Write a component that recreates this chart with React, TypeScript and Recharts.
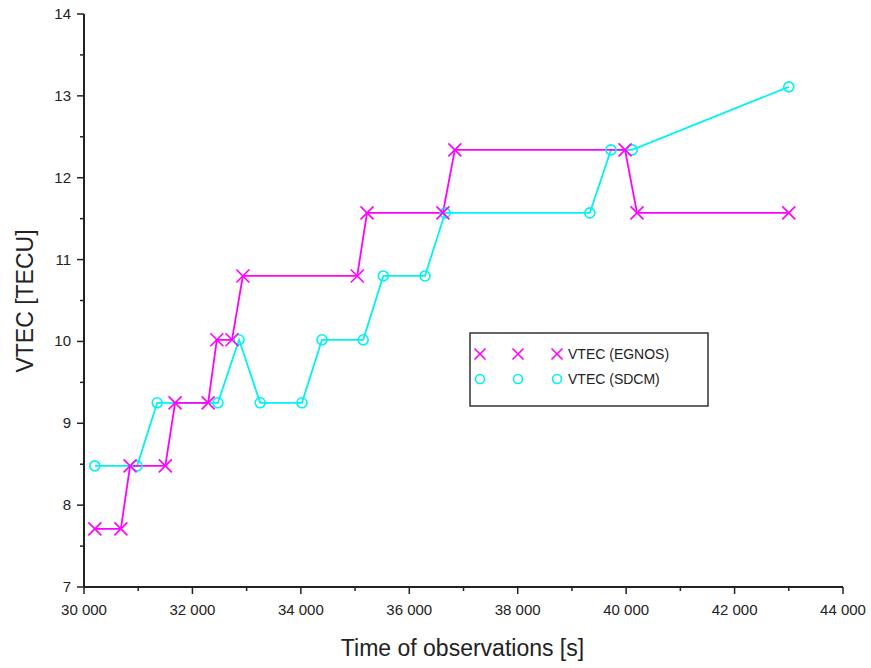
import { LineChart, Line, XAxis, YAxis, Legend } from 'recharts';

// EGNOS series (magenta crosses)
const egnosTime = [30200, 30680, 30850, 31500, 31680, 32290, 32450, 32730, 32930, 35040, 35220, 36620, 36840, 39980, 40200, 43000];
const egnosVtec = [7.71, 7.71, 8.48, 8.48, 9.25, 9.25, 10.02, 10.02, 10.8, 10.8, 11.57, 11.57, 12.34, 12.34, 11.57, 11.57];

// SDCM series (cyan circles)
const sdcmTime = [30200, 30980, 31350, 32470, 32860, 33250, 34020, 34390, 35150, 35520, 36290, 36660, 39330, 39720, 40110, 43000];
const sdcmVtec = [8.48, 8.48, 9.25, 9.25, 10.02, 9.25, 9.25, 10.02, 10.02, 10.8, 10.8, 11.57, 11.57, 12.34, 12.34, 13.11];

const xTicks = [30000, 31000, 32000, 33000, 34000, 35000, 36000, 37000, 38000, 39000, 40000, 41000, 42000, 43000, 44000];
const yTicks = [7, 7.5, 8, 8.5, 9, 9.5, 10, 10.5, 11, 11.5, 12, 12.5, 13, 13.5, 14];

const MAGENTA = '#ff00ff';
const CYAN = '#00f2f2';
const AXIS = '#222';
const FONT = '"Liberation Sans", Arial, sans-serif';

const egnosData = egnosTime.map((t, i) => ({ t, v: egnosVtec[i] }));
const sdcmData = sdcmTime.map((t, i) => ({ t, v: sdcmVtec[i] }));

const fmtThousands = (v: number) => {
  const s = String(Math.round(v));
  return s.length > 3 ? `${s.slice(0, s.length - 3)} ${s.slice(-3)}` : s;
};

function Cross({ cx, cy, color, size = 6.5 }: any) {
  if (cx == null || cy == null) return null;
  return (
    <g stroke={color} strokeWidth={1.6}>
      <line x1={cx - size} y1={cy - size} x2={cx + size} y2={cy + size} />
      <line x1={cx - size} y1={cy + size} x2={cx + size} y2={cy - size} />
    </g>
  );
}

function Ring({ cx, cy, color, r = 5 }: any) {
  if (cx == null || cy == null) return null;
  return <circle cx={cx} cy={cy} r={r} fill="none" stroke={color} strokeWidth={1.6} />;
}

function XTick({ x, y, payload }: any) {
  const major = payload.value % 2000 === 0;
  return (
    <g>
      <line x1={x} y1={y} x2={x} y2={y + (major ? 7 : 4)} stroke={AXIS} strokeWidth={1.5} />
      {major && (
        <text x={x} y={y + 28} textAnchor="middle" fontSize={15} fontFamily={FONT} fill="#222">
          {fmtThousands(payload.value)}
        </text>
      )}
    </g>
  );
}

function YTick({ x, y, payload }: any) {
  const major = Number.isInteger(payload.value);
  return (
    <g>
      <line x1={x} y1={y} x2={x - (major ? 7 : 4)} y2={y} stroke={AXIS} strokeWidth={1.5} />
      {major && (
        <text x={x - 13} y={y + 5} textAnchor="end" fontSize={15} fontFamily={FONT} fill="#222">
          {payload.value}
        </text>
      )}
    </g>
  );
}

function LegendBox() {
  const row = (y: number, marker: 'x' | 'o', label: string) => (
    <g>
      {[480, 518, 557].map(mx =>
        marker === 'x'
          ? <Cross key={mx} cx={mx} cy={y} color={MAGENTA} size={5.5} />
          : <Ring key={mx} cx={mx} cy={y} color={CYAN} r={4.5} />
      )}
      <text x={568} y={y + 5} fontSize={14} fontFamily={FONT} fill="#222">{label}</text>
    </g>
  );
  return (
    <svg width={871} height={668} style={{ position: 'absolute', left: 0, top: 0, pointerEvents: 'none' }}>
      <rect x={470} y={333} width={238} height={73} fill="#fff" stroke="#333" strokeWidth={1.5} />
      {row(354, 'x', 'VTEC (EGNOS)')}
      {row(379, 'o', 'VTEC (SDCM)')}
    </svg>
  );
}

export default function App() {
  return (
    <div style={{ position: 'absolute', left: 0, top: 0, width: 871, height: 668, background: '#fff' }}>
      <LineChart width={871} height={668} margin={{ top: 14, right: 28, bottom: 41, left: 24 }}>
        <XAxis
          xAxisId="b"
          dataKey="t"
          type="number"
          domain={[30000, 44000]}
          ticks={xTicks}
          interval={0}
          height={40}
          axisLine={{ stroke: AXIS, strokeWidth: 2 }}
          tickLine={false}
          tickSize={0}
          tickMargin={0}
          tick={<XTick />}
          allowDataOverflow
        />
        <XAxis xAxisId="t" orientation="top" type="number" domain={[30000, 44000]} height={0} tick={false} tickLine={false} axisLine={{ stroke: AXIS, strokeWidth: 2 }} />
        <YAxis
          yAxisId="l"
          type="number"
          domain={[7, 14]}
          ticks={yTicks}
          interval={0}
          width={60}
          axisLine={{ stroke: AXIS, strokeWidth: 2 }}
          tickLine={false}
          tickSize={0}
          tickMargin={0}
          tick={<YTick />}
          allowDataOverflow
        />
        <YAxis yAxisId="r" orientation="right" type="number" domain={[7, 14]} width={0} tick={false} tickLine={false} axisLine={{ stroke: AXIS, strokeWidth: 2 }} />
        <Line
          xAxisId="b"
          yAxisId="l"
          data={sdcmData}
          dataKey="v"
          type="linear"
          stroke={CYAN}
          strokeWidth={1.8}
          dot={(p: any) => <Ring key={`s-${p.index}`} cx={p.cx} cy={p.cy} color={CYAN} />}
          activeDot={false}
          isAnimationActive={false}
        />
        <Line
          xAxisId="b"
          yAxisId="l"
          data={egnosData}
          dataKey="v"
          type="linear"
          stroke={MAGENTA}
          strokeWidth={1.8}
          dot={(p: any) => <Cross key={`e-${p.index}`} cx={p.cx} cy={p.cy} color={MAGENTA} />}
          activeDot={false}
          isAnimationActive={false}
        />
        <Legend content={() => null} />
      </LineChart>
      <LegendBox />
      <div style={{ position: 'absolute', left: 0, top: 635, width: 871, paddingLeft: 54, textAlign: 'center', fontFamily: FONT, fontSize: 23, color: '#222', boxSizing: 'border-box' }}>
        Time of observations [s]
      </div>
      <div style={{ position: 'absolute', left: 25, top: 301, transform: 'translate(-50%, -50%) rotate(-90deg)', whiteSpace: 'nowrap', fontFamily: FONT, fontSize: 23, color: '#222' }}>
        VTEC [TECU]
      </div>
    </div>
  );
}
